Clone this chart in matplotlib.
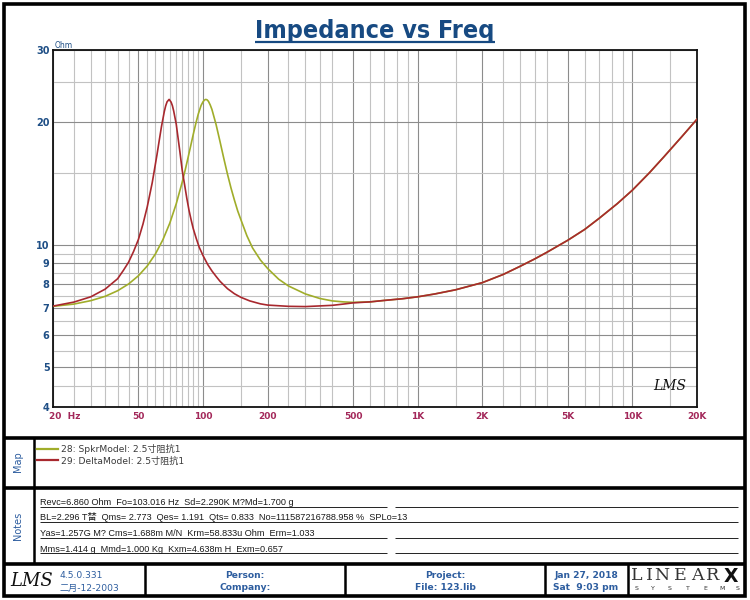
import matplotlib
matplotlib.use("Agg")
import matplotlib.pyplot as plt
import matplotlib.transforms as mtrans
from matplotlib.ticker import NullFormatter
from matplotlib.patches import Rectangle

# ---------------- data ----------------
freq_spkr = [20, 25, 30, 35, 40, 45, 50, 55, 60, 65, 70, 75, 80, 82.5, 85, 87.5,
             90, 92.5, 95, 98, 100, 101.5, 103, 104.5, 106, 108, 110, 115, 120,
             125, 130, 135, 140, 145, 150, 160, 170, 185, 200, 225, 250, 300, 350,
             400, 450, 500, 600, 700, 850, 1000, 1200, 1500, 2000, 2500, 3000,
             3500, 4000, 5000, 6000, 7000, 8500, 10000, 12000, 14000, 17000, 20000]
z_spkr = [7.06, 7.15, 7.29, 7.47, 7.71, 8.01, 8.39, 8.87, 9.49, 10.28, 11.29,
          12.59, 14.24, 15.21, 16.28, 17.42, 18.62, 19.8, 20.9, 21.96, 22.4,
          22.62, 22.7, 22.64, 22.45, 22.0, 21.45, 19.7, 17.88, 16.25, 14.88,
          13.76, 12.86, 12.1, 11.52, 10.52, 9.82, 9.17, 8.74, 8.23, 7.92, 7.57,
          7.38, 7.28, 7.24, 7.22, 7.24, 7.3, 7.37, 7.45, 7.57, 7.75, 8.07, 8.45,
          8.85, 9.22, 9.58, 10.25, 10.9, 11.6, 12.6, 13.6, 15.0, 16.4, 18.4, 20.3]

freq_delta = [20, 25, 30, 35, 40, 42.5, 45, 47.5, 50, 52.5, 55, 58, 61, 62.5, 64,
              66, 67, 68, 69.5, 71, 72, 73, 75, 78, 80, 81, 82, 84, 86, 88, 90, 93,
              96, 100, 105, 110, 115, 120, 130, 140, 150, 165, 185, 200, 250, 300,
              400, 450, 500, 600, 700, 850, 1000, 1200, 1500, 2000, 2500, 3000,
              3500, 4000, 5000, 6000, 7000, 8500, 10000, 12000, 14000, 17000, 20000]
z_delta = [7.07, 7.23, 7.45, 7.78, 8.25, 8.64, 9.06, 9.63, 10.3, 11.23, 12.4,
           14.2, 16.6, 18.0, 19.45, 21.2, 21.9, 22.4, 22.7, 22.35, 21.9, 21.25,
           19.75, 16.9, 15.2, 14.6, 14.05, 13.0, 12.15, 11.5, 10.95, 10.35, 9.85,
           9.4, 8.95, 8.62, 8.36, 8.13, 7.8, 7.58, 7.43, 7.28, 7.16, 7.11, 7.06,
           7.05, 7.1, 7.15, 7.2, 7.24, 7.3, 7.37, 7.45, 7.57, 7.75, 8.07, 8.45,
           8.85, 9.22, 9.58, 10.25, 10.9, 11.6, 12.6, 13.6, 15.0, 16.4, 18.4, 20.3]

x_ticks = [20, 50, 100, 200, 500, 1000, 2000, 5000, 10000, 20000]
x_tick_labels = ["20  Hz", "50", "100", "200", "500", "1K", "2K", "5K", "10K", "20K"]
y_ticks = [4, 5, 6, 7, 8, 9, 10, 20, 30]
y_tick_labels = ["4", "5", "6", "7", "8", "9", "10", "20", "30"]

series_labels = ["28: SpkrModel: 2.5寸阻抗1", "29: DeltaModel: 2.5寸阻抗1"]
notes_lines = [
    "Revc=6.860 Ohm  Fo=103.016 Hz  Sd=2.290K M?Md=1.700 g",
    "BL=2.296 T榃  Qms= 2.773  Qes= 1.191  Qts= 0.833  No=111587216788.958 %  SPLo=13",
    "Yas=1.257G M? Cms=1.688m M/N  Krm=58.833u Ohm  Erm=1.033",
    "Mms=1.414 g  Mmd=1.000 Kg  Kxm=4.638m H  Exm=0.657",
]

# ---------------- styles ----------------
BLUE = "#1f4f86"
FOOT_BLUE = "#2d5d9f"
XLAB = "#a3285a"
OLIVE = "#a0ad2a"
RED = "#a8282e"
CJK = ["DejaVu Sans", "Noto Sans CJK SC"]
NOTEF = ["Liberation Sans", "Noto Sans CJK SC"]

fig = plt.figure(figsize=(7.5, 6), dpi=100, facecolor="white")

# frame axes in pixel coordinates (y down)
frame = fig.add_axes([0, 0, 1, 1])
frame.set_xlim(0, 750)
frame.set_ylim(600, 0)
frame.axis("off")
frame.patch.set_visible(False)

def seg(x0, y0, x1, y1, lw=1.8, color="black"):
    frame.plot([x0, x1], [y0, y1], color=color, lw=lw, solid_capstyle="butt")

frame.add_patch(Rectangle((4, 4), 741, 592, fill=False, lw=2.6, ec="black"))
for yy in (438, 488, 564):
    seg(4, yy, 745, yy, lw=2.6)
seg(34, 438, 34, 564, lw=1.8)
for xx in (145, 345, 545, 628):
    seg(xx, 564, xx, 596, lw=1.8)

# notes rule lines
note_rows = [503, 518.5, 534, 549.5]
for i, yy in enumerate(note_rows):
    uy = yy + 3.5
    if i == 1:
        seg(40, uy, 738, uy, lw=0.7, color="#222222")
    else:
        seg(40, uy, 387, uy, lw=0.7, color="#222222")
        seg(395, uy, 738, uy, lw=0.7, color="#222222")
    frame.text(40, yy + 2, notes_lines[i], family=NOTEF, fontsize=6.6,
               color="#1a1a1a", ha="left", va="baseline")

# ---------------- main plot ----------------
ax = fig.add_axes([53 / 750, 1 - 407 / 600, 644 / 750, 357 / 600])
ax.set_xscale("log")
ax.set_yscale("log")
ax.set_xlim(20, 20000)
ax.set_ylim(4, 30)

l1, = ax.plot(freq_spkr, z_spkr, color=OLIVE, lw=1.2, zorder=3,
              solid_joinstyle="round")
l2, = ax.plot(freq_delta, z_delta, color=RED, lw=1.2, zorder=4,
              solid_joinstyle="round")

minor_x = ([f for f in range(25, 100, 5)] +
           [150, 250, 300, 350, 400, 600, 700, 800, 900] +
           [1500, 2500, 3000, 3500, 4000, 6000, 7000, 8000, 9000] + [15000])
minor_y = [4.5, 5.5, 6.5, 7.5, 8.5, 9.5, 15, 25]

ax.set_xticks(x_ticks)
ax.set_xticklabels(x_tick_labels)
ax.set_xticks(minor_x, minor=True)
ax.xaxis.set_minor_formatter(NullFormatter())
ax.set_yticks(y_ticks)
ax.set_yticklabels(y_tick_labels)
ax.set_yticks(minor_y, minor=True)
ax.yaxis.set_minor_formatter(NullFormatter())

ax.tick_params(which="both", length=0)
ax.tick_params(axis="x", pad=3.5, labelsize=6.5, labelcolor=XLAB)
ax.tick_params(axis="y", pad=2.5, labelsize=7, labelcolor=BLUE)
for lb in ax.get_xticklabels() + ax.get_yticklabels():
    lb.set_fontweight("bold")
first = ax.get_xticklabels()[0]
first.set_ha("left")
first.set_transform(first.get_transform() +
                    mtrans.ScaledTranslation(-4 / 100, 0, fig.dpi_scale_trans))

ax.grid(which="major", color="#8c8c8c", lw=0.8)
ax.grid(which="minor", color="#c2c2c2", lw=0.8)
ax.set_axisbelow(True)
for sp in ax.spines.values():
    sp.set_linewidth(1.3)
    sp.set_color("#111111")

ax.text(0.983, 0.04, "LMS", transform=ax.transAxes, ha="right", va="bottom",
        fontsize=10, style="italic", family="DejaVu Serif", color="#111111")

# ---------------- texts ----------------
title = frame.text(375, 38, "Impedance vs Freq", ha="center", va="baseline",
                   fontsize=18, fontweight="bold", fontstretch="condensed",
                   family="DejaVu Sans", color="#174a82")
frame.text(55, 45, "Ohm", ha="left", va="center", fontsize=5.5, color=BLUE)

frame.text(18, 462, "Map", rotation=90, ha="center", va="center", fontsize=7,
           color=FOOT_BLUE)
frame.text(18, 526, "Notes", rotation=90, ha="center", va="center", fontsize=7,
           color=FOOT_BLUE)

leg = fig.legend([l1, l2], series_labels, loc="upper left",
                 bbox_to_anchor=(37 / 750, 1 - 444 / 600), frameon=False,
                 prop={"family": CJK, "size": 6.6}, handlelength=2.3,
                 handletextpad=0.3, labelspacing=0.25, borderaxespad=0,
                 borderpad=0)
for t in leg.get_texts():
    t.set_color("#3a3a3a")
for h in leg.legend_handles:
    h.set_linewidth(1.6)

# footer
frame.text(32, 581, "LMS", ha="center", va="center", fontsize=13,
           style="italic", family="DejaVu Serif", color="#111111")
frame.text(60, 575, "4.5.0.331", ha="left", va="center", fontsize=6.6,
           color=FOOT_BLUE, family=CJK)
frame.text(60, 588, "二月-12-2003", ha="left", va="center", fontsize=6.6,
           color=FOOT_BLUE, family=CJK)
for cx, a, b in ((245, "Person:", "Company:"), (445, "Project:", "File: 123.lib"),
                 (586, "Jan 27, 2018", "Sat  9:03 pm")):
    frame.text(cx, 575, a, ha="center", va="center", fontsize=6.6,
               color=FOOT_BLUE, fontweight="bold")
    frame.text(cx, 588, b, ha="center", va="center", fontsize=6.6,
               color=FOOT_BLUE, fontweight="bold")

for ch, xx in zip("LINEAR", (637, 649, 662, 680, 697, 713)):
    frame.text(xx, 576, ch, ha="center", va="center", fontsize=12.5,
               family="DejaVu Serif", color="#333333", fontweight="light")
frame.text(731, 576, "X", ha="center", va="center", fontsize=13.5,
           fontweight="bold", color="#111111")
for ch, xx in zip("SYSTEMS", (637, 653, 670, 688, 705, 722, 738)):
    frame.text(xx, 588, ch, ha="center", va="center", fontsize=4.5,
               color="#333333")

# underline for title
fig.canvas.draw()
bb = title.get_window_extent()
seg(bb.x0, 42, bb.x1, 42, lw=1.6, color="#174a82")

fig.savefig("out.png", dpi=100, facecolor="white")
